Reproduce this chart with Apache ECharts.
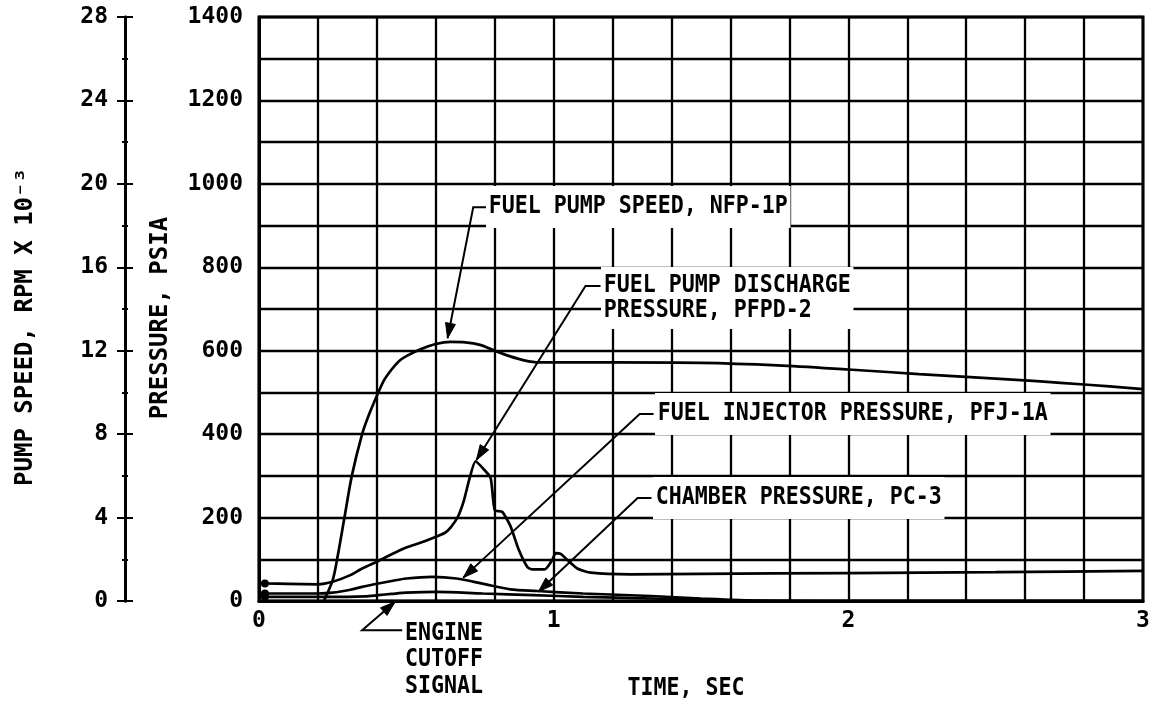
<!DOCTYPE html>
<html><head><meta charset="utf-8">
<script src="https://cdn.jsdelivr.net/npm/echarts@6/dist/echarts.min.js"></script>
<style>html,body{margin:0;padding:0;background:#fff}#c{width:1156px;height:707px}</style>
</head><body><div id="c"></div>
<script>
// ---- data (time in seconds) ----
const speedTime = [0.22,0.25,0.265,0.29,0.315,0.35,0.375,0.405,0.425,0.45,0.475,0.5,0.55,0.6,0.65,0.7,0.75,0.8,0.85,0.9,0.95,1.0,1.2,1.5,1.76,2.0,2.24,2.5,2.64,2.8,3.0];
const speedKrpm = [0,1.0,2.0,4.0,6.0,8.0,9.0,10.0,10.6,11.1,11.5,11.74,12.08,12.32,12.42,12.4,12.28,12.0,11.74,11.54,11.44,11.44,11.44,11.42,11.3,11.1,10.88,10.66,10.54,10.38,10.16];

const pfpdTime = [0.02,0.1,0.2,0.25,0.31,0.35,0.405,0.45,0.5,0.55,0.59,0.63,0.65,0.675,0.695,0.715,0.735,0.76,0.786,0.80,0.825,0.853,0.882,0.91,0.925,0.97,0.995,1.007,1.024,1.047,1.08,1.126,1.26,1.5,2.0,2.5,3.0];
const pfpdPsi  = [42,41,40,46,62,78,96,112,128,140,151,163,176,202,240,295,335,318,295,218,214,180,122,82,76,76,98,115,113,98,78,68,64,65,67,69,72];

const pfjTime = [0.02,0.1,0.2,0.25,0.31,0.35,0.405,0.45,0.5,0.587,0.67,0.762,0.853,0.944,1.1,1.33,1.5,1.7,2.0,3.0];
const pfjPsi  = [18,18,18,20,27,34,42,48,54,58,54,41,28,24,18,12,6,1,0,0];

const pcTime = [0.02,0.1,0.2,0.3,0.36,0.405,0.45,0.5,0.6,0.76,0.93,1.1,1.33,1.5,1.7,3.0];
const pcPsi  = [10,10,10,10,11,14,17,20,22,18,14,10,6,3,0,0];

const xTickLabels = ['0','1','2','3'];
const annotationTexts = {
  speed: 'FUEL PUMP SPEED, NFP-1P',
  pfpd: 'FUEL PUMP DISCHARGE\nPRESSURE, PFPD-2',
  pfj: 'FUEL INJECTOR PRESSURE, PFJ-1A',
  pc: 'CHAMBER PRESSURE, PC-3',
  cutoff: 'ENGINE\nCUTOFF\nSIGNAL'
};
// leader polylines in data units [time, psi]; the last point carries the arrow
const leaderLines = [
  [[0.772,944],[0.727,944],[0.64,630]],
  [[1.159,755],[1.108,755],[0.738,338]],
  [[1.339,448],[1.292,448],[0.693,56]],
  [[1.332,247],[1.285,247],[0.948,22]],
  [[0.486,-70],[0.350,-70],[0.462,-2]]
];

const FONT = '"DejaVu Sans Mono", monospace';
const pair = (ts, vs) => ts.map((t,i)=>[t, vs[i]]);
const withDot = arr => arr.map((p,i)=> i===0 ? {value:p, symbol:'circle', symbolSize:8} : {value:p});

const lineBase = {type:'line', smooth:0.3, symbol:'none', showSymbol:true, showAllSymbol:true,
  lineStyle:{color:'#000', width:2.7}, itemStyle:{color:'#000'}, animation:false, silent:true, z:5};

const chart = echarts.init(document.getElementById('c'), null, {renderer:'canvas'});
const option = {
  animation:false,
  backgroundColor:'#fff',
  grid:{left:259, right:13, top:17, bottom:106, show:true, borderColor:'#000', borderWidth:3, outerBoundsMode:'none', containLabel:false},
  xAxis:{type:'value', min:0, max:3, interval:1,
    axisLine:{show:true, lineStyle:{color:'#000', width:3}}, axisTick:{show:false},
    axisLabel:{color:'#000', fontFamily:FONT, fontWeight:'bold', fontSize:23, margin:9,
      formatter:(v)=> xTickLabels[Math.round(v)] ?? ''},
    splitLine:{show:true, lineStyle:{color:'#000', width:2.3}},
    minorTick:{show:false, splitNumber:5},
    minorSplitLine:{show:true, lineStyle:{color:'#000', width:2.3}}
  },
  yAxis:[
    {type:'value', min:0, max:1400, interval:200, position:'left',
      axisLine:{show:true, lineStyle:{color:'#000', width:3}}, axisTick:{show:false},
      axisLabel:{color:'#000', fontFamily:FONT, fontWeight:'bold', fontSize:23, margin:16, formatter:(v)=>String(v)},
      splitLine:{show:true, lineStyle:{color:'#000', width:2.3}},
      minorTick:{show:false, splitNumber:2},
      minorSplitLine:{show:true, lineStyle:{color:'#000', width:2.3}}
    },
    {type:'value', min:0, max:28, interval:4, position:'left', offset:134,
      axisLine:{show:true, onZero:false, lineStyle:{color:'#000', width:3}},
      axisTick:{show:true, length:8, lineStyle:{color:'#000', width:2}},
      minorTick:{show:true, splitNumber:2, length:3, lineStyle:{color:'#000', width:2}},
      axisLabel:{color:'#000', fontFamily:FONT, fontWeight:'bold', fontSize:23, margin:17, formatter:(v)=>String(v)},
      splitLine:{show:false}
    },
    {type:'value', min:0, max:28, interval:4, position:'left', offset:134,
      axisLine:{show:true, onZero:false, lineStyle:{color:'#000', width:3}},
      axisTick:{show:true, inside:true, length:8, lineStyle:{color:'#000', width:2}},
      minorTick:{show:true, inside:true, splitNumber:2, length:3, lineStyle:{color:'#000', width:2}},
      axisLabel:{show:false}, splitLine:{show:false}
    }
  ],
  series:[
    Object.assign({}, lineBase, {name:'NFP-1P', yAxisIndex:1, data:pair(speedTime, speedKrpm)}),
    Object.assign({}, lineBase, {name:'PFPD-2', yAxisIndex:0, smooth:0.2, data:withDot(pair(pfpdTime, pfpdPsi))}),
    Object.assign({}, lineBase, {name:'PFJ-1A', yAxisIndex:0, data:withDot(pair(pfjTime, pfjPsi))}),
    Object.assign({}, lineBase, {name:'PC-3', yAxisIndex:0, data:withDot(pair(pcTime, pcPsi))})
  ]
};
chart.setOption(option);

// ---- annotation texts ----
const txt = (text, x, y, extra) => ({type:'text', z:100, x, y, scaleX:0.9,
  style:Object.assign({text, font:'bold 24px '+FONT, fill:'#000', align:'left', verticalAlign:'middle'}, extra||{})});
const graphics = [
  {type:'text', z:100, x:26, y:327, rotation:Math.PI/2,
    style:{text:'PUMP SPEED, RPM X 10⁻³', font:'bold 24px '+FONT, fill:'#000', align:'center', verticalAlign:'middle'}},
  {type:'text', z:100, x:161, y:318, rotation:Math.PI/2,
    style:{text:'PRESSURE, PSIA', font:'bold 24px '+FONT, fill:'#000', align:'center', verticalAlign:'middle'}},
  txt('TIME, SEC', 686, 689, {align:'center'}),
  txt(annotationTexts.speed, 486, 207, {backgroundColor:'#fff', padding:[9,3]}),
  txt(annotationTexts.pfpd, 601, 298, {lineHeight:25, backgroundColor:'#fff', padding:[6,3]}),
  txt(annotationTexts.pfj, 655, 414, {backgroundColor:'#fff', padding:[9,3]}),
  txt(annotationTexts.pc, 653, 498, {backgroundColor:'#fff', padding:[9,3]}),
  txt(annotationTexts.cutoff, 405, 660, {lineHeight:26.5})
];

// ---- leader lines, mapped through the chart's own axes ----
leaderLines.forEach(pts => {
  const px = pts.map(p => chart.convertToPixel({xAxisIndex:0, yAxisIndex:0}, p));
  graphics.push({type:'polyline', z:90, shape:{points:px}, style:{stroke:'#000', lineWidth:2, fill:null}});
  const a = px[px.length-2], b = px[px.length-1];
  const dx = b[0]-a[0], dy = b[1]-a[1], L = Math.hypot(dx,dy), ux = dx/L, uy = dy/L;
  const len = 15, w = 5;
  const bx = b[0]-ux*len, by = b[1]-uy*len;
  graphics.push({type:'polygon', z:91, shape:{points:[[b[0],b[1]],[bx-uy*w,by+ux*w],[bx+uy*w,by-ux*w]]},
    style:{fill:'#000', stroke:'#000', lineWidth:1}});
});
chart.setOption({graphic:graphics});
</script></body></html>
